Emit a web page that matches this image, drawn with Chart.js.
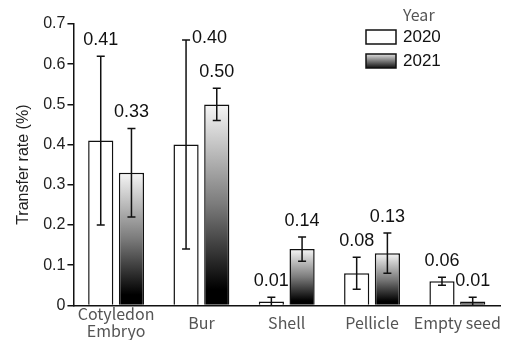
<!DOCTYPE html>
<html>
<head>
<meta charset="utf-8">
<script src="https://cdn.jsdelivr.net/npm/chart.js@4"></script>
<style>
  html, body { margin: 0; padding: 0; background: #fff; overflow: hidden; }
  #wrap { width: 514px; height: 349px; }
</style>
</head>
<body>
<div id="wrap"><canvas id="chart"></canvas></div>
<script>
// ---- data ----
const categories = [['Cotyledon', 'Embryo'], 'Bur', 'Shell', 'Pellicle', 'Empty seed'];
const years = ['2020', '2021'];
const rate2020 = [0.41, 0.40, 0.01, 0.08, 0.06];
const rate2021 = [0.33, 0.50, 0.14, 0.13, 0.01];
const errLow2020 = [0.20, 0.14, 0.00, 0.04, 0.05];
const errHigh2020 = [0.62, 0.66, 0.02, 0.12, 0.07];
const errLow2021 = [0.22, 0.46, 0.11, 0.08, 0.00];
const errHigh2021 = [0.44, 0.54, 0.17, 0.18, 0.02];
const yTicks = [0, 0.1, 0.2, 0.3, 0.4, 0.5, 0.6, 0.7];

const errLow = [errLow2020, errLow2021];
const errHigh = [errHigh2020, errHigh2021];

// white at the top of each bar, black at its base
function barGradient(ctx) {
  const chart = ctx.chart;
  if (!chart.chartArea || ctx.type !== 'data') return '#777';
  const y = chart.scales.y;
  const top = y.getPixelForValue(ctx.raw);
  const base = y.getPixelForValue(0);
  const g = chart.ctx.createLinearGradient(0, top, 0, base + 0.01);
  g.addColorStop(0, '#f6f6f6');
  g.addColorStop(0.5, '#7a7a7a');
  g.addColorStop(0.92, '#000000');
  g.addColorStop(1, '#000000');
  return g;
}

const errorBars = {
  id: 'errorBars',
  afterDatasetsDraw(chart) {
    const { ctx, scales: { y }, chartArea } = chart;
    ctx.save();
    ctx.strokeStyle = '#111';
    ctx.lineWidth = 1.5;
    chart.data.datasets.forEach((ds, d) => {
      chart.getDatasetMeta(d).data.forEach((bar, i) => {
        const hi = y.getPixelForValue(errHigh[d][i]);
        const lo = y.getPixelForValue(errLow[d][i]);
        ctx.beginPath();
        ctx.moveTo(bar.x, hi); ctx.lineTo(bar.x, lo);
        ctx.moveTo(bar.x - 4, hi); ctx.lineTo(bar.x + 4, hi);
        if (errLow[d][i] > 0) { ctx.moveTo(bar.x - 4, lo); ctx.lineTo(bar.x + 4, lo); }
        ctx.stroke();

        // value label above the cap, or beside it if no room
        ctx.fillStyle = '#111';
        ctx.font = '18px Arial, "Liberation Sans", sans-serif';
        const txt = ds.data[i].toFixed(2);
        if (hi - 16 - 9 < chartArea.top) {
          ctx.textAlign = 'left';
          ctx.textBaseline = 'middle';
          ctx.fillText(txt, bar.x + 6, hi - 2);
        } else {
          ctx.textAlign = 'center';
          ctx.textBaseline = 'middle';
          ctx.fillText(txt, bar.x, hi - 16);
        }
      });
    });
    ctx.restore();
  }
};

const yearLegend = {
  id: 'yearLegend',
  afterDraw(chart) {
    const { ctx } = chart;
    ctx.save();
    ctx.textAlign = 'left';
    ctx.textBaseline = 'middle';
    ctx.font = '16px "Noto Sans CJK JP", sans-serif';
    ctx.fillStyle = '#555';
    ctx.fillText('Year', 403, 15);
    ctx.font = '17px Arial, "Liberation Sans", sans-serif';
    ctx.lineWidth = 1.5;
    ctx.strokeStyle = '#111';
    years.forEach((yr, k) => {
      const by = 30 + k * 24;
      if (k === 0) {
        ctx.fillStyle = '#fff';
      } else {
        const g = ctx.createLinearGradient(0, by, 0, by + 14);
        g.addColorStop(0, '#e0e0e0');
        g.addColorStop(1, '#111');
        ctx.fillStyle = g;
      }
      ctx.fillRect(366, by, 30, 14);
      ctx.strokeRect(366, by, 30, 14);
      ctx.fillStyle = '#111';
      ctx.fillText(yr, 403, by + 7.5);
    });
    ctx.restore();
  }
};

new Chart(document.getElementById('chart'), {
  type: 'bar',
  data: {
    labels: categories,
    datasets: [
      {
        label: years[0],
        data: rate2020,
        backgroundColor: '#ffffff',
        borderColor: '#111',
        borderWidth: 1.5,
        barPercentage: 0.82,
        categoryPercentage: 0.72
      },
      {
        label: years[1],
        data: rate2021,
        backgroundColor: barGradient,
        borderColor: '#111',
        borderWidth: 1.5,
        barPercentage: 0.82,
        categoryPercentage: 0.72
      }
    ]
  },
  options: {
    responsive: true,
    maintainAspectRatio: false,
    animation: false,
    layout: { padding: { top: 24, right: 14, left: 14, bottom: 0 } },
    scales: {
      x: {
        grid: { display: false },
        border: { display: true, color: '#111', width: 1.5 },
        ticks: {
          color: '#555',
          autoSkip: false,
          maxRotation: 0,
          minRotation: 0,
          crossAlign: 'center',
          padding: 1,
          font: { family: '"Noto Sans CJK JP", sans-serif', size: 16, lineHeight: 1.05 }
        }
      },
      y: {
        min: 0,
        max: 0.7,
        afterBuildTicks: (axis) => { axis.ticks = yTicks.map(v => ({ value: v })); },
        grid: { drawOnChartArea: false, drawTicks: true, tickLength: 6, color: '#111', lineWidth: 1.5 },
        border: { display: true, color: '#111', width: 1.5 },
        ticks: {
          color: '#222',
          padding: 2,
          font: { family: 'Arial, "Liberation Sans", sans-serif', size: 16 },
          callback: (v) => String(Math.round(v * 10) / 10)
        },
        title: {
          display: true,
          text: 'Transfer rate (%)',
          color: '#222',
          padding: { top: 0, bottom: 8 },
          font: { family: 'Arial, "Liberation Sans", sans-serif', size: 16 }
        }
      }
    },
    plugins: {
      legend: { display: false },
      tooltip: { enabled: false }
    }
  },
  plugins: [errorBars, yearLegend]
});
</script>
</body>
</html>
